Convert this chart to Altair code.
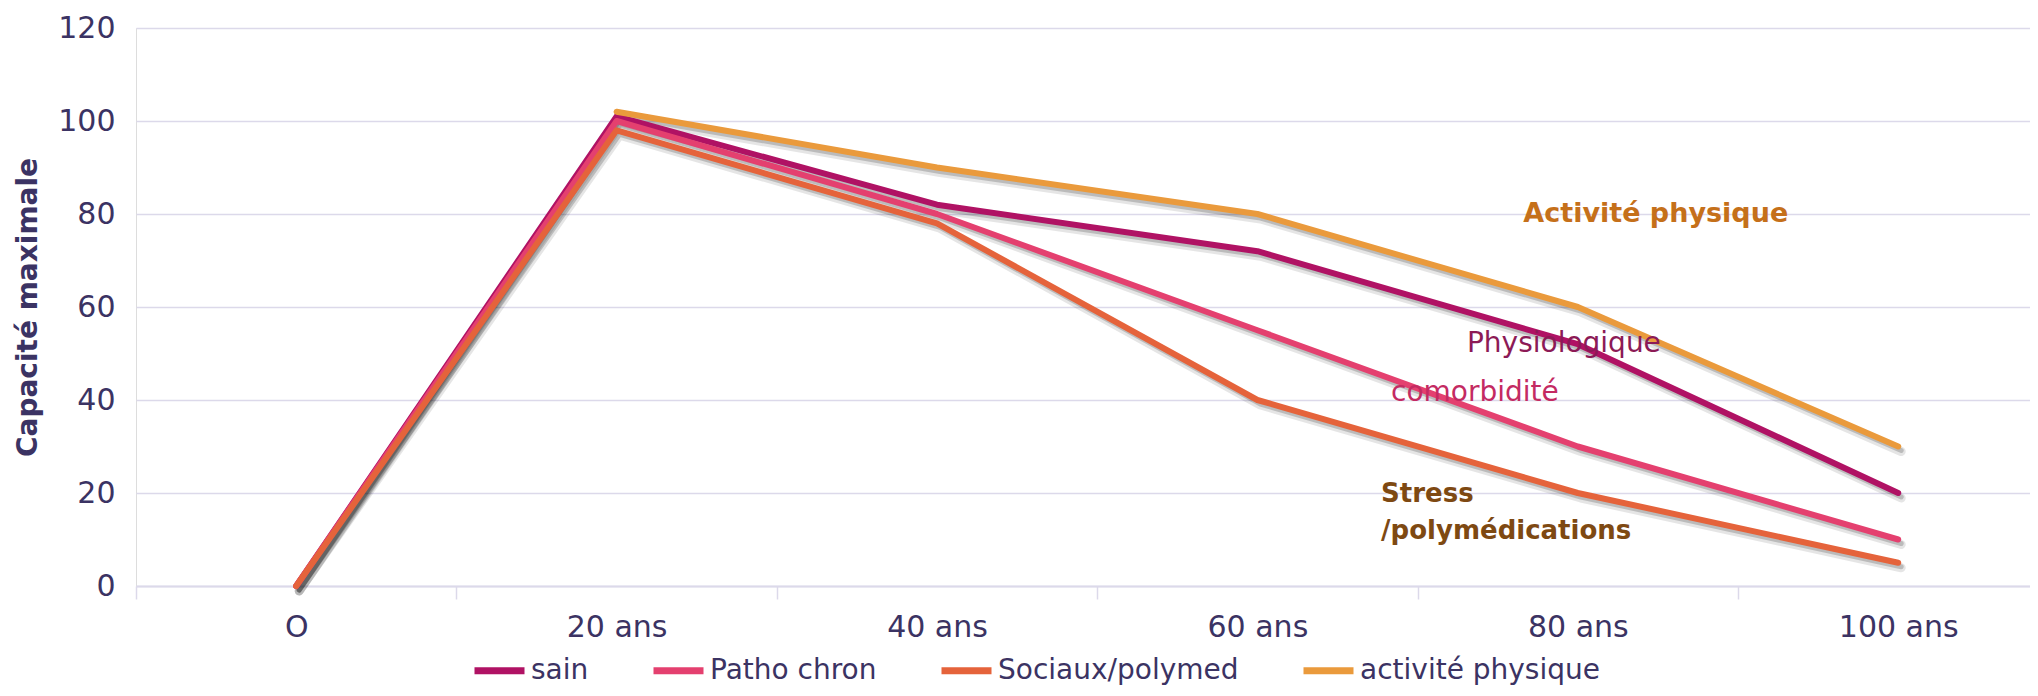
import json
import altair as alt
import pandas as pd

# ---- data ----
ages = ["O", "20 ans", "40 ans", "60 ans", "80 ans", "100 ans"]
series = ["sain", "Patho chron", "Sociaux/polymed", "activité physique"]
sain = [0, 101, 82, 72, 52, 20]
patho_chron = [0, 100, 80, 55, 30, 10]
sociaux_polymed = [0, 98, 78, 40, 20, 5]
activite_physique = [None, 102, 90, 80, 60, 30]
colors = ["#B01264", "#E4406F", "#E5633B", "#EA9A3C"]

ann_text = ["Activité physique", "Physiologique", "comorbidité", "Stress", "/polymédications"]
ann_x = [3.83, 3.654, 3.417, 3.386, 3.386]
ann_y = [80.1, 52.0, 41.4, 19.8, 11.9]

# ---- build table ----
rows = []
for s, vals in zip(series, [sain, patho_chron, sociaux_polymed, activite_physique]):
    for i, v in enumerate(vals):
        if v is not None:
            rows.append({"age": i, "valeur": v, "serie": s})
df = pd.DataFrame(rows)
ann = pd.DataFrame({"txt": ann_text, "ax": ann_x, "ay": ann_y})

FONT = "DejaVu Sans"
TXT = "#3B3363"
GRID = "#DCD9EA"
W, H = 1894, 558
STEP = 320.4
XMAX = -0.5 + W / STEP

label_expr = json.dumps(ages) + "[datum.value]"

xscale = alt.Scale(domain=[-0.5, XMAX], nice=False, zero=False)
yscale = alt.Scale(domain=[0, 120], nice=False, zero=False)

x_enc = alt.X(
    "age:Q",
    scale=xscale,
    title=None,
    axis=alt.Axis(
        values=[0, 1, 2, 3, 4, 5],
        labelExpr=label_expr,
        tickOffset=-STEP / 2,
        labelOffset=STEP / 2,
        tickSize=13,
        tickColor=GRID,
        tickWidth=1.5,
        domainColor=GRID,
        domainWidth=2,
        grid=False,
        labelFontSize=30,
        labelColor=TXT,
        labelFont=FONT,
        labelPadding=28,
        labelBaseline="middle",
        labelFlush=False,
        labelOverlap=False,
        labelBound=False,
    ),
)
y_enc = alt.Y(
    "valeur:Q",
    scale=yscale,
    axis=alt.Axis(
        values=[0, 20, 40, 60, 80, 100, 120],
        title="Capacité maximale",
        titleFontSize=28,
        titleFontWeight="bold",
        titleColor=TXT,
        titleFont=FONT,
        titleX=-108,
        titleY=H / 2,
        titleAngle=270,
        titleAlign="center",
        titleBaseline="middle",
        labelFontSize=30,
        labelColor=TXT,
        labelFont=FONT,
        labelPadding=21,
        ticks=False,
        domain=False,
        gridColor=GRID,
        gridWidth=1.5,
    ),
)

legend = alt.Legend(
    title=None,
    orient="none",
    direction="horizontal",
    legendX=335,
    legendY=614,
    symbolType="stroke",
    symbolStrokeWidth=7,
    symbolSize=2500,
    labelFontSize=28,
    labelFont=FONT,
    labelColor=TXT,
    labelOffset=3,
    labelLimit=0,
    columnPadding=50,
    padding=0,
)
color_enc = alt.Color("serie:N", scale=alt.Scale(domain=series, range=colors), legend=legend)

base = alt.Chart(df)

shadow_soft = base.mark_line(
    color="#000000", opacity=0.10, strokeWidth=9, xOffset=3, yOffset=5, strokeCap="round", strokeJoin="round"
).encode(x=x_enc, y=y_enc, detail="serie:N")
shadow = base.mark_line(
    color="#000000", opacity=0.18, strokeWidth=5, xOffset=3, yOffset=4, strokeCap="round", strokeJoin="round"
).encode(x=x_enc, y=y_enc, detail="serie:N")

lines = [
    base.transform_filter(alt.datum.serie == s)
    .mark_line(strokeWidth=6, strokeCap="round", strokeJoin="round")
    .encode(x=x_enc, y=y_enc, color=color_enc)
    for s in series
]

annb = alt.Chart(ann)


def ann_layer(txt, color, weight, size):
    return (
        annb.transform_filter(alt.datum.txt == txt)
        .mark_text(align="left", baseline="middle", font=FONT, fontSize=size, fontWeight=weight, color=color)
        .encode(x=alt.X("ax:Q", scale=xscale), y=alt.Y("ay:Q", scale=yscale), text="txt:N")
    )


texts = [
    ann_layer("Activité physique", "#C5701A", "bold", 27),
    ann_layer("Physiologique", "#8C1A56", "normal", 28),
    ann_layer("comorbidité", "#C42A62", "normal", 28),
    ann_layer("Stress", "#7E4912", "bold", 26),
    ann_layer("/polymédications", "#7E4912", "bold", 26),
]

chart = (
    alt.layer(shadow_soft, shadow, *lines, *texts)
    .properties(
        width=W,
        height=H,
        autosize=alt.AutoSizeParams(type="none"),
        padding={"left": 128, "top": 20, "right": 0, "bottom": 102},
    )
    .configure_view(stroke=None)
    .configure(font=FONT)
)

chart.save("out.html", embed_options={"renderer": "svg", "actions": False})
